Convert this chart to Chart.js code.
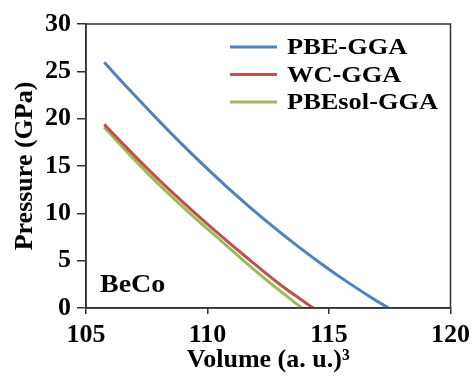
<!DOCTYPE html>
<html>
<head>
<meta charset="utf-8">
<script src="https://cdn.jsdelivr.net/npm/chart.js@4.4.1/dist/chart.umd.min.js"></script>
<style>
  html, body { margin: 0; padding: 0; background: #fff; }
  #wrap { width: 476px; height: 376px; }
</style>
</head>
<body>
<div id="wrap"><canvas id="c" width="476" height="376"></canvas></div>
<script>
// Series (Volume in (a.u.)^3, Pressure in GPa)
const seriesNames = ["PBE-GGA", "WC-GGA", "PBEsol-GGA"];
const seriesColors = ["#4F81BD", "#C0504D", "#9BBB59"];

const pbeVolume   = [105.75, 106.75, 107.75, 108.75, 109.75, 110.75, 111.75, 112.75, 113.75, 114.75, 115.75, 116.75, 117.45];
const pbePressure = [25.95, 23.15, 20.44, 17.81, 15.30, 12.91, 10.64, 8.49, 6.46, 4.55, 2.76, 1.09, 0];

const wcVolume    = [105.75, 106.5, 107.3, 108.1, 109.5, 110.5, 111.7, 113.0, 114.35];
const wcPressure  = [19.4, 17.4, 15.3, 13.3, 10.0, 7.75, 5.15, 2.45, 0];

const solVolume   = [105.75, 106.5, 107.2, 107.9, 109.3, 110.4, 111.4, 112.6, 113.88];
const solPressure = [19.1, 17.0, 15.1, 13.3, 9.95, 7.45, 5.2, 2.6, 0];

const xTicks = [105, 110, 115, 120];
const yTicks = [0, 5, 10, 15, 20, 25, 30];
const annotationText = "BeCo";

const FONT = "'Liberation Serif', 'Times New Roman', serif";

function pts(xs, ys) { return xs.map((x, i) => ({ x: x, y: ys[i] })); }

const volumes = [pbeVolume, wcVolume, solVolume];
const pressures = [pbePressure, wcPressure, solPressure];

const datasets = seriesNames.map((name, i) => ({
  label: name,
  data: pts(volumes[i], pressures[i]),
  borderColor: seriesColors[i],
  backgroundColor: seriesColors[i],
  borderWidth: 3,
  pointRadius: 0,
  cubicInterpolationMode: 'monotone',
  fill: false
}));

const framePlugin = {
  id: 'frame',
  afterDatasetsDraw(chart) {
    const { ctx, chartArea: a } = chart;
    ctx.save();
    ctx.strokeStyle = '#333';
    ctx.lineWidth = 1.5;
    ctx.strokeRect(a.left, a.top, a.right - a.left, a.bottom - a.top);
    ctx.restore();
  }
};

function stretchedText(ctx, text, x, y, sx) {
  ctx.save();
  ctx.translate(x, y);
  ctx.scale(sx, 1);
  ctx.fillText(text, 0, 0);
  ctx.restore();
}

const legendPlugin = {
  id: 'customLegend',
  afterDraw(chart) {
    const { ctx, chartArea: a } = chart;
    ctx.save();
    ctx.font = "bold 24px " + FONT;
    ctx.textBaseline = 'middle';
    ctx.textAlign = 'left';
    const x0 = a.left + 144, lineLen = 47, rowH = 27.5, y0 = a.top + 23;
    chart.data.datasets.forEach((ds, i) => {
      const y = y0 + i * rowH;
      ctx.strokeStyle = ds.borderColor;
      ctx.lineWidth = 3;
      ctx.beginPath();
      ctx.moveTo(x0, y);
      ctx.lineTo(x0 + lineLen, y);
      ctx.stroke();
      ctx.fillStyle = '#000';
      stretchedText(ctx, ds.label, x0 + lineLen + 10, y + 1, 1.1);
    });
    // annotation
    ctx.font = "bold 25px " + FONT;
    stretchedText(ctx, annotationText, a.left + 14, a.bottom - 22, 1.12);
    ctx.restore();
  }
};

new Chart(document.getElementById('c'), {
  type: 'line',
  data: { datasets: datasets },
  options: {
    responsive: false,
    animation: false,
    layout: { padding: { top: 24, right: 23, left: 0, bottom: 0 } },
    plugins: { legend: { display: false }, tooltip: { enabled: false } },
    scales: {
      x: {
        type: 'linear',
        min: 105, max: 120,
        afterBuildTicks(s) { s.ticks = xTicks.map(v => ({ value: v })); },
        afterFit(s) { s.height = 68; },
        border: { display: true, color: '#333', width: 1.5 },
        grid: { drawOnChartArea: false, drawTicks: true, tickLength: 6, color: '#333', lineWidth: 1.5 },
        ticks: { color: '#000', font: { family: FONT, size: 26, weight: 'bold' }, padding: 6, maxRotation: 0 },
        title: { display: true, text: 'Volume (a. u.)³', color: '#000', font: { family: FONT, size: 26, weight: 'bold' }, padding: { top: 0, bottom: 0 } }
      },
      y: {
        type: 'linear',
        min: 0, max: 30,
        afterBuildTicks(s) { s.ticks = yTicks.map(v => ({ value: v })); },
        afterFit(s) { s.width = 86; },
        border: { display: true, color: '#333', width: 1.5 },
        grid: { drawOnChartArea: false, drawTicks: true, tickLength: 9, color: '#333', lineWidth: 1.5 },
        ticks: { color: '#000', font: { family: FONT, size: 26, weight: 'bold' }, padding: 6 },
        title: { display: true, text: 'Pressure (GPa)', color: '#000', font: { family: FONT, size: 26, weight: 'bold' }, padding: { top: 10, bottom: 0 } }
      }
    }
  },
  plugins: [framePlugin, legendPlugin]
});
</script>
</body>
</html>
